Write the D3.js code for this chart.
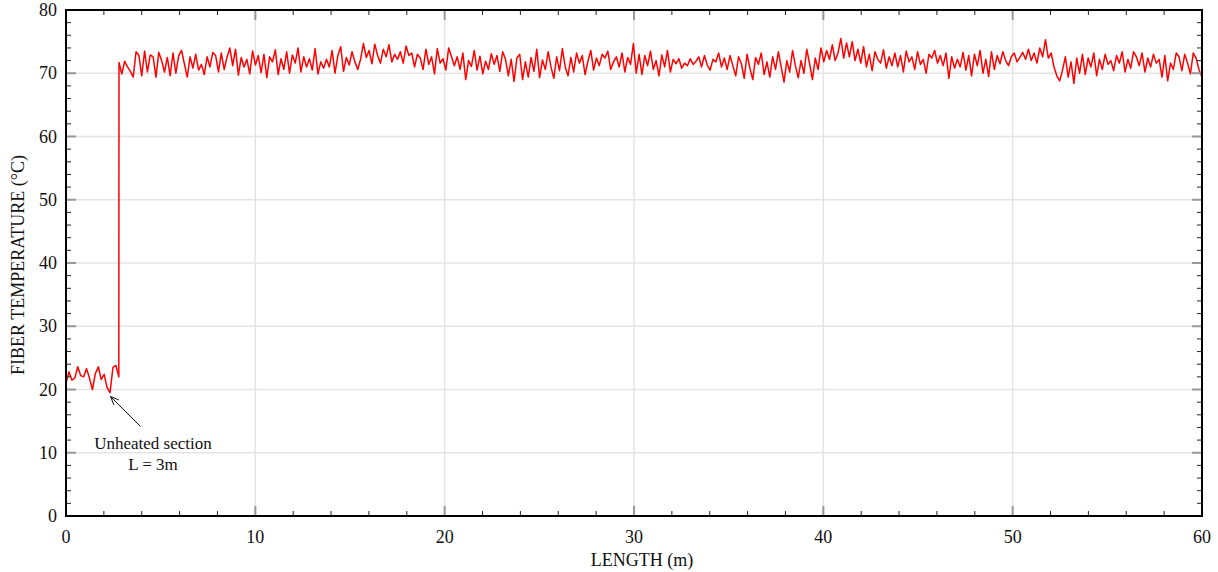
<!DOCTYPE html>
<html>
<head>
<meta charset="utf-8">
<script src="https://cdn.jsdelivr.net/npm/d3@7"></script>
<style>
  html, body { margin: 0; padding: 0; background: #fff; }
  svg { display: block; }
  text { font-family: "Liberation Serif", "Times New Roman", serif; fill: #111; }
</style>
</head>
<body>
<svg id="chart" width="1218" height="572"></svg>
<script>
// ---- data ----
const unheatedStart = 0;      // m
const unheatedStep = 0.155;   // m between samples
const heatedStart = 2.8;      // m
const heatedStep = 0.1501;    // m between samples
const unheatedTemps = [21.0, 22.8, 21.5, 21.8, 23.6, 22.2, 22.0, 23.3, 21.8, 20.0,
  22.5, 23.6, 21.6, 22.4, 20.3, 19.5, 23.5, 23.8, 22.0];
const heatedTemps = [
  71.7, 69.9, 71.9, 71.0, 70.3, 69.4, 73.4, 72.8, 69.6, 73.5, 70.2, 72.9, 72.6, 69.4, 73.3, 72.0, 70.2, 72.5, 69.6, 73.2,
  70.0, 72.8, 73.6, 71.5, 69.4, 72.6, 70.8, 73.0, 70.5, 71.4, 69.8, 72.6, 71.0, 73.3, 72.8, 70.2, 73.2, 70.6, 72.5, 74.0,
  71.2, 73.8, 69.7, 72.5, 71.0, 72.2, 69.9, 73.5, 71.3, 72.8, 70.1, 73.0, 69.3, 72.6, 71.8, 73.7, 69.8, 72.3, 70.6, 73.4,
  70.0, 72.9, 71.6, 74.0, 70.2, 72.6, 71.0, 72.3, 70.5, 73.9, 69.9, 71.8, 70.8, 72.2, 71.0, 73.6, 70.0, 72.8, 74.2, 70.3,
  72.5, 71.3, 73.4, 71.8, 70.6, 72.2, 74.7, 72.5, 73.6, 71.5, 74.6, 72.8, 71.6, 73.8, 72.6, 74.5, 71.8, 73.0, 72.2, 73.4,
  71.6, 74.3, 72.8, 73.2, 71.0, 73.0, 72.4, 70.6, 73.8, 71.4, 72.6, 69.9, 73.9, 71.6, 72.3, 70.5, 74.0, 72.6, 71.2, 72.6,
  70.6, 73.2, 69.0, 72.0, 71.1, 73.6, 70.5, 72.7, 69.9, 71.9, 70.6, 73.1, 71.4, 72.8, 70.3, 73.4, 72.2, 69.6, 72.2, 68.7,
  72.4, 73.0, 69.0, 71.8, 69.4, 72.5, 70.3, 73.8, 69.3, 72.1, 70.6, 73.4, 71.0, 69.2, 72.6, 70.4, 73.9, 71.0, 69.6, 72.5,
  70.2, 73.2, 71.6, 72.8, 69.8, 71.9, 73.6, 70.5, 72.4, 71.2, 73.0, 72.4, 73.5, 70.6, 71.8, 72.6, 71.0, 73.2, 70.2, 72.5,
  71.4, 74.7, 70.0, 73.0, 69.8, 72.8, 71.2, 73.5, 70.6, 72.0, 69.6, 72.9, 71.0, 73.6, 70.2, 72.2, 71.5, 72.3, 70.8, 71.6,
  71.2, 72.3, 71.4, 71.9, 72.6, 71.0, 72.8, 71.3, 70.5, 72.2, 71.8, 73.2, 71.0, 72.4, 70.6, 72.8, 71.2, 69.6, 72.6, 71.5,
  69.2, 73.0, 70.8, 69.0, 72.5, 71.4, 73.2, 69.8, 71.8, 69.4, 72.6, 70.6, 73.4, 71.0, 68.6, 72.0, 70.2, 73.6, 71.2, 69.3,
  72.0, 70.0, 73.8, 71.5, 69.0, 72.4, 70.6, 74.0, 71.8, 73.6, 72.2, 74.5, 72.0, 73.2, 75.5, 72.4, 74.8, 72.6, 75.0, 72.0,
  73.8, 71.6, 74.2, 71.0, 73.0, 70.4, 73.4, 72.2, 71.6, 73.7, 70.8, 72.6, 71.2, 73.2, 71.0, 72.8, 70.2, 73.5, 71.8, 72.6,
  70.6, 73.4, 71.4, 72.2, 70.0, 73.0, 72.4, 73.6, 71.6, 72.8, 71.2, 73.2, 69.2, 72.6, 70.8, 72.2, 71.0, 73.3, 70.5, 72.8,
  69.6, 73.0, 71.2, 73.6, 70.0, 72.2, 69.5, 73.4, 70.6, 72.8, 71.5, 73.4, 72.0, 71.2, 72.6, 73.2, 71.8, 72.5, 73.3, 72.2,
  73.8, 72.0, 73.2, 71.6, 74.0, 72.6, 75.3, 72.4, 73.2, 71.0, 69.6, 68.8, 70.5, 72.6, 69.4, 71.8, 68.4, 72.4, 70.0, 73.0,
  69.8, 72.4, 71.0, 73.2, 69.6, 72.2, 70.6, 73.0, 71.4, 72.0, 70.4, 72.8, 71.6, 73.4, 70.2, 72.2, 70.8, 73.4, 72.6, 71.2,
  73.2, 70.2, 72.4, 71.0, 73.0, 71.6, 72.2, 69.4, 72.8, 68.8, 71.6, 70.6, 73.2, 72.6, 70.4, 73.0, 71.6, 69.9, 73.2, 72.4,
  70.6, 69.5
];
const xMajorTicks = [0, 10, 20, 30, 40, 50, 60];
const yMajorTicks = [0, 10, 20, 30, 40, 50, 60, 70, 80];
const xTitle = "LENGTH (m)";
const yTitle = "FIBER TEMPERATURE (°C)";
const noteLines = ["Unheated section", "L = 3m"];
const notePoint = [2.3, 19.2];   // data point the arrow points to

// ---- build series ----
const series = unheatedTemps.map((t, i) => ({ len: unheatedStart + i * unheatedStep, temp: t }))
  .concat(heatedTemps.map((t, i) => ({ len: heatedStart + i * heatedStep, temp: t })));

// ---- layout ----
const svg = d3.select("#chart");
const L = 66, R = 1202, T = 10, B = 516;
const x = d3.scaleLinear().domain([0, 60]).range([L, R]);
const y = d3.scaleLinear().domain([0, 80]).range([B, T]);

const xMinor = d3.range(0, 61, 2).filter(v => v % 10 !== 0);
const yMinor = d3.range(0, 81, 2).filter(v => v % 10 !== 0);

// gridlines
const grid = svg.append("g");
grid.selectAll(".gx").data(xMajorTicks.slice(1, -1)).join("line")
  .attr("x1", d => x(d)).attr("x2", d => x(d)).attr("y1", T).attr("y2", B)
  .attr("stroke", "#e4e4e4").attr("stroke-width", 1.5);
grid.selectAll(".gy").data(yMajorTicks.slice(1, -1)).join("line")
  .attr("x1", L).attr("x2", R).attr("y1", d => y(d)).attr("y2", d => y(d))
  .attr("stroke", "#e4e4e4").attr("stroke-width", 1.5);

// data line
const line = d3.line().x(d => x(d.len)).y(d => y(d.temp));
svg.append("path").datum(series)
  .attr("d", line).attr("fill", "none")
  .attr("stroke", "#ff0000").attr("stroke-width", 1.5)
  .attr("stroke-linejoin", "round");

// ticks (inward on all four sides)
const ticks = svg.append("g");
function vt(data, y0, dir, len, color, w) {
  ticks.append("g").selectAll("line").data(data).join("line")
    .attr("x1", d => x(d)).attr("x2", d => x(d))
    .attr("y1", y0).attr("y2", y0 + dir * len)
    .attr("stroke", color).attr("stroke-width", w);
}
function ht(data, x0, dir, len, color, w) {
  ticks.append("g").selectAll("line").data(data).join("line")
    .attr("y1", d => y(d)).attr("y2", d => y(d))
    .attr("x1", x0).attr("x2", x0 + dir * len)
    .attr("stroke", color).attr("stroke-width", w);
}
vt(xMinor, B, -1, 5, "#222", 1);
vt(xMinor, T, 1, 5, "#222", 1);
vt(xMajorTicks.slice(1, -1), B, -1, 10, "#999", 2);
vt(xMajorTicks.slice(1, -1), T, 1, 10, "#999", 2);
ht(yMinor, L, 1, 5, "#222", 1);
ht(yMinor, R, -1, 5, "#222", 1);
ht(yMajorTicks.slice(1, -1), L, 1, 10, "#999", 2);
ht(yMajorTicks.slice(1, -1), R, -1, 10, "#999", 2);

// frame
svg.append("rect").attr("x", L).attr("y", T).attr("width", R - L).attr("height", B - T)
  .attr("fill", "none").attr("stroke", "#000").attr("stroke-width", 2);

// tick labels
svg.append("g").selectAll("text").data(xMajorTicks).join("text")
  .attr("x", d => x(d)).attr("y", B + 27)
  .attr("text-anchor", "middle").attr("font-size", 18)
  .text(d => d);
svg.append("g").selectAll("text").data(yMajorTicks).join("text")
  .attr("x", L - 9).attr("y", d => y(d) + 6)
  .attr("text-anchor", "end").attr("font-size", 18)
  .text(d => d);

// axis titles
svg.append("text").attr("x", 642).attr("y", 566)
  .attr("text-anchor", "middle").attr("font-size", 18).text(xTitle);
svg.append("text")
  .attr("transform", `translate(24, ${(T + B) / 2 + 2}) rotate(-90)`)
  .attr("text-anchor", "middle").attr("font-size", 18).text(yTitle);

// annotation
const ax1 = x(notePoint[0]) + 1, ay1 = y(notePoint[1]) + 2;
const ax0 = ax1 + 30, ay0 = ay1 + 30;
const ann = svg.append("g").attr("stroke", "#111").attr("stroke-width", 1).attr("fill", "none");
ann.append("line").attr("x1", ax0).attr("y1", ay0).attr("x2", ax1).attr("y2", ay1);
const ang = Math.atan2(ay1 - ay0, ax1 - ax0);
[0.4, -0.4].forEach(a => {
  ann.append("line").attr("x1", ax1).attr("y1", ay1)
    .attr("x2", ax1 - 9 * Math.cos(ang + a)).attr("y2", ay1 - 9 * Math.sin(ang + a));
});
svg.append("g").selectAll("text").data(noteLines).join("text")
  .attr("x", 153).attr("y", (d, i) => 449 + i * 21)
  .attr("text-anchor", "middle").attr("font-size", 17)
  .text(d => d);
</script>
</body>
</html>
